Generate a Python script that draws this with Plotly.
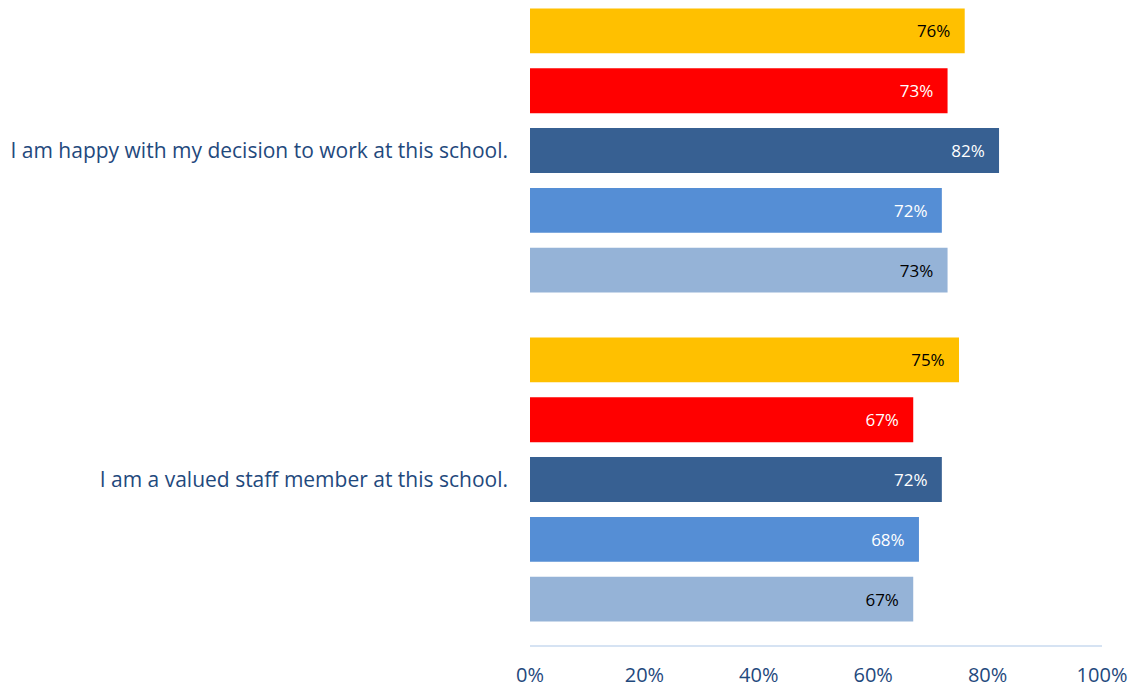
import plotly.graph_objects as go

categories = ["I am happy with my decision to work at this school.",
              "I am a valued staff member at this school."]
series_names = ["Series 1", "Series 2", "Series 3", "Series 4", "Series 5"]
series_values = [
    [76, 75],
    [73, 67],
    [82, 72],
    [72, 68],
    [73, 67],
]
colors = ["#FFC000", "#FF0000", "#376092", "#558ED5", "#95B3D7"]
text_colors = ["#000000", "#FFFFFF", "#FFFFFF", "#FFFFFF", "#000000"]
x_ticks = [0, 20, 40, 60, 80, 100]
x_tick_labels = ["0%", "20%", "40%", "60%", "80%", "100%"]

FONT = "Open Sans, Lato, sans-serif"

fig = go.Figure()
for name, vals, c, tc in zip(series_names, series_values, colors, text_colors):
    fig.add_trace(go.Bar(
        y=categories, x=vals, name=name, orientation="h",
        marker=dict(color=c, line=dict(width=0)),
        text=[f"{v}%\u2002\u2009" for v in vals],
        textposition="inside", insidetextanchor="end",
        textfont=dict(color=tc, size=17, family=FONT),
        constraintext="none",
        hoverinfo="skip",
    ))

fig.update_layout(
    width=1140, height=688,
    margin=dict(l=530, r=38, t=0, b=37),
    barmode="group", bargap=0.0909, bargroupgap=0.25,
    showlegend=False,
    plot_bgcolor="white", paper_bgcolor="white",
    font=dict(family=FONT),
)
fig.update_xaxes(
    range=[0, 100], tickvals=x_ticks, ticktext=x_tick_labels,
    showgrid=False, zeroline=False,
    showline=True, linecolor="#D6E3F3", linewidth=1.5,
    tickfont=dict(size=20, color="#1F497D", family=FONT),
    ticks="", ticklabelstandoff=11,
)
fig.update_yaxes(
    type="category", range=[1.503, -0.4576],
    showgrid=False, zeroline=False, showline=False, ticks="",
    tickfont=dict(size=21, color="#1F497D", family=FONT),
    ticklabelstandoff=21,
)

fig.write_html("out.html", config={"displayModeBar": False},
               post_script="document.body.style.margin='0';")
